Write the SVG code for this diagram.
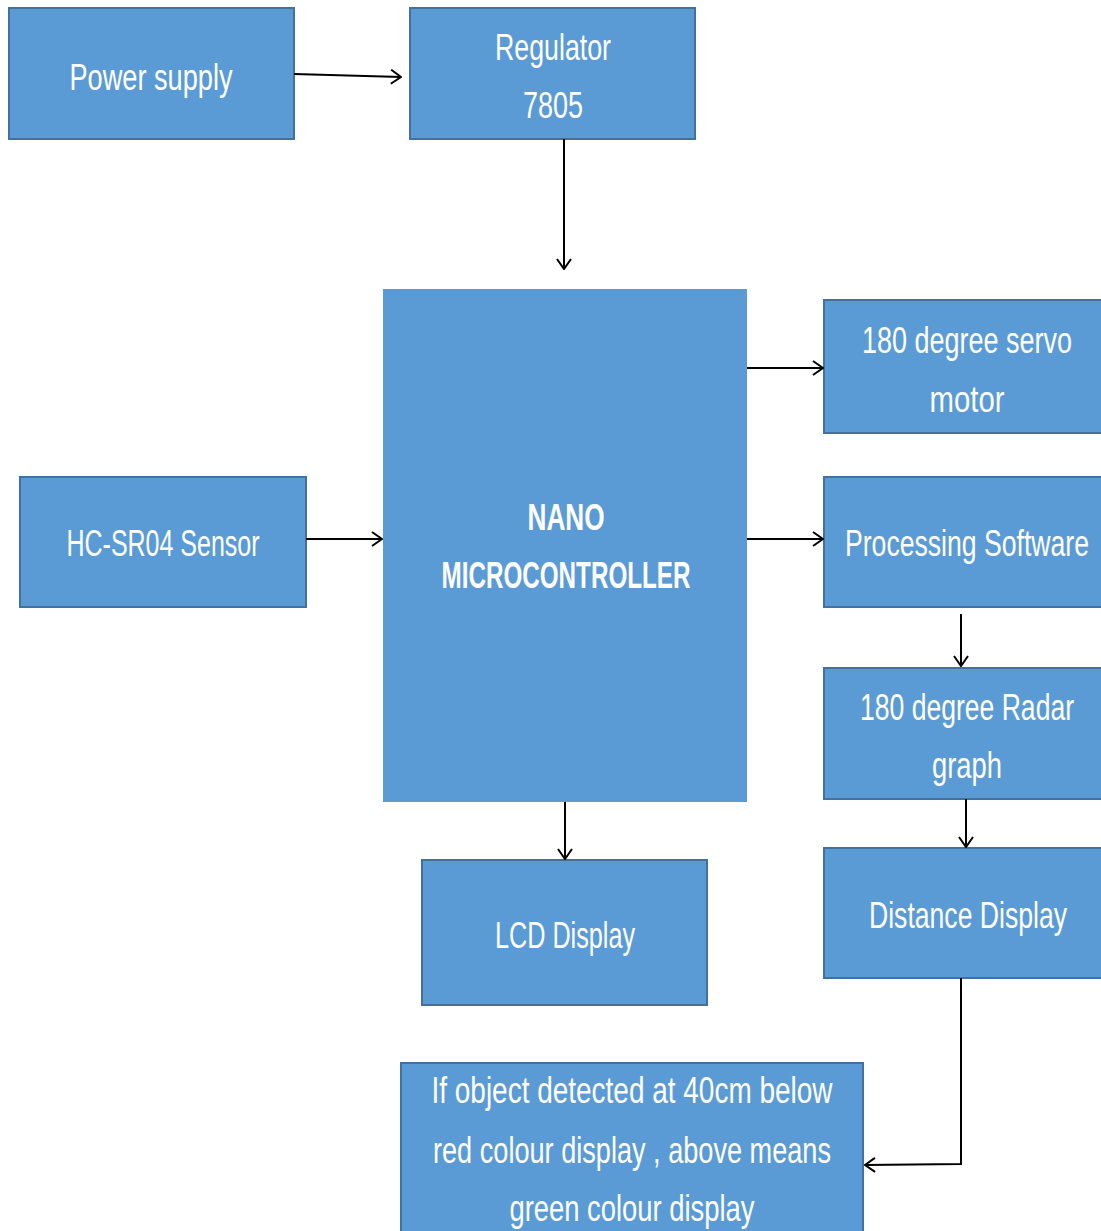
<svg xmlns="http://www.w3.org/2000/svg" width="1101" height="1231" viewBox="0 0 1101 1231">
<style>
.box{fill:#5B9BD5;stroke:#41719C;stroke-width:2}
.nano{fill:#5B9BD5;stroke:none}
text{font-family:"Liberation Sans","Open Sans",sans-serif;font-size:36px;fill:#FFFFFF;text-anchor:middle}
.b{font-weight:bold}
.c{fill:none;stroke:#000;stroke-width:2}
</style>
<defs>
<marker id="ah" viewBox="0 0 12 16" refX="11" refY="8" markerWidth="12" markerHeight="16" markerUnits="userSpaceOnUse" orient="auto">
<path d="M1,1 L11,8 L1,15" fill="none" stroke="#000" stroke-width="2"/>
</marker>
</defs>
<rect width="1101" height="1231" fill="#FFFFFF"/>
<g id="power"><rect class="box" x="9" y="8" width="285" height="131"/><text x="151" y="90" textLength="163" lengthAdjust="spacingAndGlyphs">Power supply</text></g>
<g id="regulator"><rect class="box" x="410" y="8" width="285" height="131"/><text x="553" y="60" textLength="116" lengthAdjust="spacingAndGlyphs">Regulator</text><text x="553" y="118" textLength="60" lengthAdjust="spacingAndGlyphs">7805</text></g>
<g id="nano"><rect class="nano" x="383" y="289" width="364" height="513"/><text class="b" x="566" y="530" textLength="77" lengthAdjust="spacingAndGlyphs">NANO</text><text class="b" x="566" y="588" textLength="249" lengthAdjust="spacingAndGlyphs">MICROCONTROLLER</text></g>
<g id="servo"><rect class="box" x="824" y="300" width="280" height="133"/><text x="967" y="353" textLength="210" lengthAdjust="spacingAndGlyphs">180 degree servo</text><text x="967" y="412" textLength="75" lengthAdjust="spacingAndGlyphs">motor</text></g>
<g id="sensor"><rect class="box" x="20" y="477" width="286" height="130"/><text x="163" y="556" textLength="193" lengthAdjust="spacingAndGlyphs">HC-SR04 Sensor</text></g>
<g id="processing"><rect class="box" x="824" y="477" width="280" height="130"/><text x="967" y="556" textLength="244" lengthAdjust="spacingAndGlyphs">Processing Software</text></g>
<g id="radar"><rect class="box" x="824" y="668" width="280" height="131"/><text x="967" y="720" textLength="214" lengthAdjust="spacingAndGlyphs">180 degree Radar</text><text x="967" y="778" textLength="70" lengthAdjust="spacingAndGlyphs">graph</text></g>
<g id="distance"><rect class="box" x="824" y="848" width="280" height="130"/><text x="968" y="928" textLength="198" lengthAdjust="spacingAndGlyphs">Distance Display</text></g>
<g id="lcd"><rect class="box" x="422" y="860" width="285" height="145"/><text x="565" y="948" textLength="140" lengthAdjust="spacingAndGlyphs">LCD Display</text></g>
<g id="result"><rect class="box" x="401" y="1063" width="462" height="175"/><text x="632" y="1103" textLength="401" lengthAdjust="spacingAndGlyphs">If object detected at 40cm below</text><text x="632" y="1163" textLength="398" lengthAdjust="spacingAndGlyphs">red colour display , above means</text><text x="632" y="1221" textLength="245" lengthAdjust="spacingAndGlyphs">green colour display</text></g>
<g id="connectors">
<path class="c" d="M294,74 L401,77" marker-end="url(#ah)"/>
<path class="c" d="M564,139 L564,269" marker-end="url(#ah)"/>
<path class="c" d="M306,539 L382,539" marker-end="url(#ah)"/>
<path class="c" d="M747,368 L823,368" marker-end="url(#ah)"/>
<path class="c" d="M747,539 L823,539" marker-end="url(#ah)"/>
<path class="c" d="M961,614 L961,666" marker-end="url(#ah)"/>
<path class="c" d="M966,799 L966,847" marker-end="url(#ah)"/>
<path class="c" d="M565,802 L565,859" marker-end="url(#ah)"/>
<path class="c" d="M961,978 L961,1164 L865,1165" marker-end="url(#ah)"/>
</g>
</svg>
